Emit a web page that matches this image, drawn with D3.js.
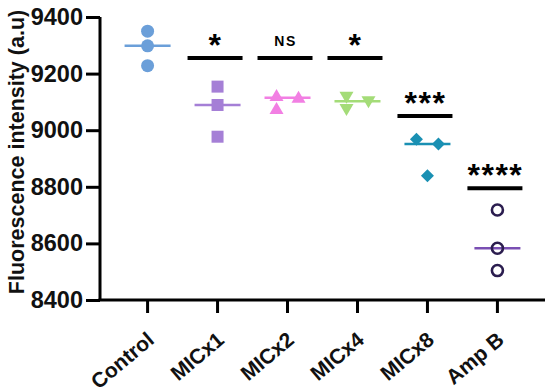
<html>
<head>
<meta charset="utf-8">
<script src="https://d3js.org/d3.v7.min.js"></script>
<style>
body {
	margin: 0;
	background: #fff;
	font-family: "Liberation Sans", Arial, sans-serif;
}
</style>
</head>
<body>
<div id="chart"></div>
<script>
	var groups = ["Control", "MICx1", "MICx2", "MICx4", "MICx8", "Amp B"];
	var control = [9350, 9298, 9228];
	var micx1 = [9154, 9089, 8977];
	var micx2 = [9121, 9075, 9115];
	var micx4 = [9118, 9075, 9102];
	var micx8 = [8968, 8951, 8839];
	var ampb = [8718, 8583, 8504];
	var values = [control, micx1, micx2, micx4, micx8, ampb];
	var sigLabels = [null, "*", "NS", "*", "***", "****"];
	var sigLevels = [null, 9255, 9255, 9255, 9050, 8795];
	var yTicks = [8400, 8600, 8800, 9000, 9200, 9400];

	// look of each group
	var colors = ["#6b9fd9", "#a57fd6", "#f27fe3", "#a4dc78", "#1a90b3", "#2b1d4f"];
	var lineColors = ["#6b9fd9", "#a57fd6", "#f27fe3", "#a4dc78", "#1a90b3", "#7a4fb3"];
	var shapes = ["circle", "square", "triUp", "triDown", "diamond", "open"];
	var dodge = [[0, 0, 0], [0, 0, 0], [-1, -1, 1], [-1, -1, 1], [-1, 1, 0], [0, 0, 0]];

	var width = 550, height = 390;
	var svg = d3.select("#chart").append("svg")
		.attr("width", width)
		.attr("height", height);

	var x = d3.scaleBand()
		.domain(groups)
		.range([100, 545])
		.paddingInner(0)
		.paddingOuter(0.18);

	var y = d3.scaleLinear()
		.domain([8400, 9400])
		.range([300, 17]);

	var cx = g => x(g) + x.bandwidth() / 2;

	// y axis
	var yAxis = svg.append("g")
		.attr("transform", "translate(100,0)")
		.call(d3.axisLeft(y).tickValues(yTicks).tickSize(14).tickSizeOuter(0).tickPadding(3).tickFormat(d3.format("d")));
	yAxis.select(".domain").attr("stroke-width", 3).attr("d", "M0," + y(9400) + "V" + y(8400));
	yAxis.selectAll(".tick line").attr("stroke-width", 3);
	yAxis.selectAll(".tick text")
		.style("font-size", "23.5px")
		.style("font-weight", "bold")
		.attr("fill", "#111");

	// x axis
	var xAxis = svg.append("g")
		.attr("transform", "translate(0,300)")
		.call(d3.axisBottom(x).tickSize(13).tickSizeOuter(0));
	xAxis.select(".domain").attr("stroke-width", 3).attr("d", "M98.5,0H545");
	xAxis.selectAll(".tick line").attr("stroke-width", 3);
	xAxis.selectAll(".tick text")
		.style("font-size", "21px")
		.style("font-weight", "bold")
		.attr("fill", "#111")
		.attr("text-anchor", "end")
		.attr("transform", "translate(8,42) rotate(-40)")
		.attr("x", 0)
		.attr("y", 0)
		.attr("dy", 0);

	svg.append("text")
		.attr("transform", "rotate(-90)")
		.attr("x", -152)
		.attr("y", 24)
		.attr("text-anchor", "middle")
		.style("font-size", "21.5px")
		.style("font-weight", "bold")
		.attr("fill", "#111")
		.text("Fluorescence intensity (a.u)");

	// median lines
	svg.selectAll(".median")
		.data(groups)
		.enter().append("line")
		.attr("x1", g => cx(g) - 23)
		.attr("x2", g => cx(g) + 23)
		.attr("y1", (g, i) => y(d3.median(values[i])))
		.attr("y2", (g, i) => y(d3.median(values[i])))
		.attr("stroke", (g, i) => lineColors[i])
		.attr("stroke-width", 2.5);

	// points
	var pts = [];
	groups.forEach(function(g, i) {
		values[i].forEach(function(v, j) {
			pts.push({ g: g, i: i, v: v, dx: dodge[i][j] * 11 });
		});
	});

	function shapePath(s) {
		if (s === "square") return "M-6,-6H6V6H-6Z";
		if (s === "triUp") return "M0,-7L7,5H-7Z";
		if (s === "triDown") return "M0,7L7,-5H-7Z";
		if (s === "diamond") return "M0,-6.5L6.5,0L0,6.5L-6.5,0Z";
		return null;
	}

	pts.forEach(function(p) {
		var px = cx(p.g) + p.dx, py = y(p.v), s = shapes[p.i];
		if (s === "circle") {
			svg.append("circle").attr("cx", px).attr("cy", py).attr("r", 6.5).attr("fill", colors[p.i]);
		} else if (s === "open") {
			svg.append("circle").attr("cx", px).attr("cy", py).attr("r", 5.5)
				.attr("fill", "none").attr("stroke", colors[p.i]).attr("stroke-width", 2.6);
		} else {
			svg.append("path").attr("transform", "translate(" + px + "," + py + ")")
				.attr("d", shapePath(s)).attr("fill", colors[p.i]);
		}
	});

	// significance marks
	groups.forEach(function(g, i) {
		if (!sigLabels[i]) return;
		var by = y(sigLevels[i]);
		svg.append("line")
			.attr("x1", cx(g) - 30).attr("x2", cx(g) + 25)
			.attr("y1", by).attr("y2", by)
			.attr("stroke", "#000").attr("stroke-width", 4);
		var ns = sigLabels[i] === "NS";
		svg.append("text")
			.attr("x", cx(g) - 2)
			.attr("y", ns ? by - 12 : by - 2)
			.attr("text-anchor", "middle")
			.style("font-size", ns ? "14px" : "32px")
			.style("font-weight", "bold")
			.style("letter-spacing", ns ? "1.5px" : "1.5px")
			.attr("fill", "#000")
			.text(sigLabels[i]);
	});
</script>
</body>
</html>
